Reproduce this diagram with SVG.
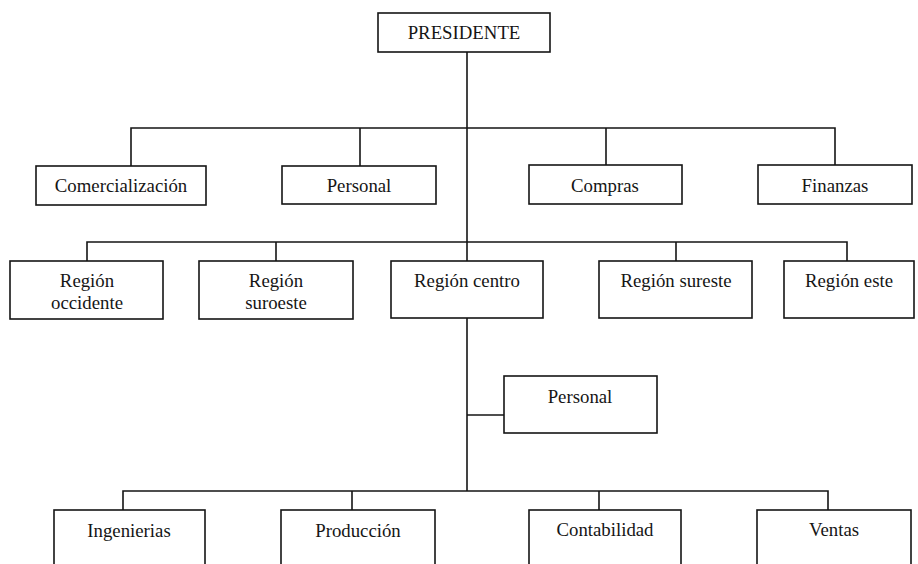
<svg xmlns="http://www.w3.org/2000/svg" width="918" height="564" viewBox="0 0 918 564">
  <style>
    .box { fill: #ffffff; stroke: #151515; stroke-width: 1.6; }
    .wire { fill: none; stroke: #151515; stroke-width: 1.6; }
    text { font-family: "Liberation Serif", "Times New Roman", serif; font-size: 18.8px; fill: #151515; text-anchor: middle; }
  </style>
  <rect width="918" height="564" fill="#ffffff"/>

  <!-- connectors -->
  <g id="connectors">
    <!-- president trunk down to the lower department bus -->
    <path class="wire" d="M467 52 V491"/>
    <!-- first level bus -->
    <path class="wire" d="M131 166 V128 H835 V165"/>
    <path class="wire" d="M360 128 V166"/>
    <path class="wire" d="M606 128 V165"/>
    <!-- regions bus -->
    <path class="wire" d="M87 261 V242 H847 V261"/>
    <path class="wire" d="M276 242 V261"/>
    <path class="wire" d="M676 242 V261"/>
    <!-- staff branch -->
    <path class="wire" d="M467 415 H504"/>
    <!-- lower departments bus -->
    <path class="wire" d="M123 510 V491 H828 V510"/>
    <path class="wire" d="M352 491 V510"/>
    <path class="wire" d="M599 491 V510"/>
  </g>

  <g id="presidente">
    <rect class="box" x="378" y="13" width="172" height="39"/>
    <text x="464" y="39">PRESIDENTE</text>
  </g>

  <g id="comercializacion">
    <rect class="box" x="36" y="166" width="170" height="39"/>
    <text x="121" y="192">Comercialización</text>
  </g>
  <g id="personal">
    <rect class="box" x="282" y="166" width="154" height="38"/>
    <text x="359" y="192">Personal</text>
  </g>
  <g id="compras">
    <rect class="box" x="529" y="165" width="153" height="39"/>
    <text x="605" y="192">Compras</text>
  </g>
  <g id="finanzas">
    <rect class="box" x="758" y="165" width="154" height="39"/>
    <text x="835" y="192">Finanzas</text>
  </g>

  <g id="region-occidente">
    <rect class="box" x="10" y="261" width="153" height="58"/>
    <text x="87" y="287">Región</text>
    <text x="87" y="309">occidente</text>
  </g>
  <g id="region-suroeste">
    <rect class="box" x="199" y="261" width="154" height="58"/>
    <text x="276" y="287">Región</text>
    <text x="276" y="309">suroeste</text>
  </g>
  <g id="region-centro">
    <rect class="box" x="391" y="261" width="152" height="57"/>
    <text x="467" y="287">Región centro</text>
  </g>
  <g id="region-sureste">
    <rect class="box" x="599" y="261" width="153" height="57"/>
    <text x="676" y="287">Región sureste</text>
  </g>
  <g id="region-este">
    <rect class="box" x="784" y="261" width="130" height="57"/>
    <text x="849" y="287">Región este</text>
  </g>

  <g id="personal-centro">
    <rect class="box" x="504" y="376" width="153" height="57"/>
    <text x="580" y="403">Personal</text>
  </g>

  <g id="ingenierias">
    <rect class="box" x="54" y="510" width="151" height="70"/>
    <text x="129" y="537">Ingenierias</text>
  </g>
  <g id="produccion">
    <rect class="box" x="281" y="510" width="154" height="70"/>
    <text x="358" y="537">Producción</text>
  </g>
  <g id="contabilidad">
    <rect class="box" x="529" y="510" width="152" height="70"/>
    <text x="605" y="536">Contabilidad</text>
  </g>
  <g id="ventas">
    <rect class="box" x="757" y="510" width="154" height="70"/>
    <text x="834" y="536">Ventas</text>
  </g>
</svg>
